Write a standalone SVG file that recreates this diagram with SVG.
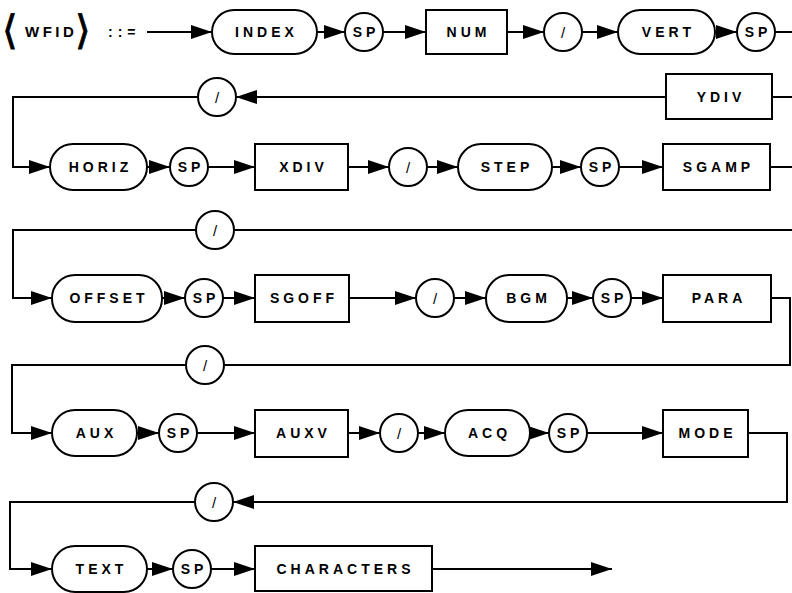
<svg xmlns="http://www.w3.org/2000/svg" width="792" height="593" viewBox="0 0 792 593">
<style>
.n{fill:#fff;stroke:#000;stroke-width:2}
.t{font-family:"Liberation Sans",Arial,sans-serif;font-weight:bold;font-size:14px;letter-spacing:4px;text-anchor:middle;fill:#000}
.s{font-family:"Liberation Sans",Arial,sans-serif;font-size:15px;text-anchor:middle;fill:#000}
.c{fill:none;stroke:#000;stroke-width:2}
.a{marker-end:url(#ah)}
</style>
<defs>
<marker id="ah" markerUnits="userSpaceOnUse" markerWidth="21" markerHeight="14" viewBox="0 0 21 14" refX="21" refY="7" orient="auto">
<path d="M0,0 L21,7 L0,14 z" fill="#000"/>
</marker>
</defs>
<rect width="792" height="593" fill="#fff"/>
<g id="title">
<text x="2" y="44" font-family="DejaVu Sans,sans-serif" font-size="40" stroke="#000" stroke-width="0.8">⟨</text>
<text x="25" y="37" font-family="Liberation Sans,Arial,sans-serif" font-weight="bold" font-size="15" letter-spacing="3.5">WFID</text>
<text x="75" y="44" font-family="DejaVu Sans,sans-serif" font-size="40" stroke="#000" stroke-width="0.8">⟩</text>
<text x="108" y="37" font-family="Liberation Sans,Arial,sans-serif" font-weight="bold" font-size="14" letter-spacing="5">::=</text>
</g>
<g id="connectors">
<line class="c a" x1="147" y1="32" x2="212" y2="32"/>
<line class="c a" x1="317" y1="32" x2="345" y2="32"/>
<line class="c a" x1="383" y1="32" x2="426" y2="32"/>
<line class="c a" x1="507" y1="32" x2="544" y2="32"/>
<line class="c a" x1="582" y1="32" x2="618" y2="32"/>
<line class="c a" x1="715" y1="32" x2="737" y2="32"/>
<line class="c" x1="775" y1="32" x2="792" y2="32"/>
<line class="c" x1="792" y1="97" x2="772" y2="97"/>
<line class="c a" x1="666" y1="97" x2="236" y2="97"/>
<polyline class="c a" points="198,97 13,97 13,167 50,167"/>
<line class="c a" x1="147" y1="167" x2="170" y2="167"/>
<line class="c a" x1="208" y1="167" x2="255" y2="167"/>
<line class="c a" x1="348" y1="167" x2="389" y2="167"/>
<line class="c a" x1="427" y1="167" x2="458" y2="167"/>
<line class="c a" x1="552" y1="167" x2="581" y2="167"/>
<line class="c a" x1="619" y1="167" x2="663" y2="167"/>
<line class="c" x1="770" y1="167" x2="792" y2="167"/>
<line class="c" x1="792" y1="230" x2="234" y2="230"/>
<polyline class="c a" points="196,230 13,230 13,298 52,298"/>
<line class="c a" x1="162" y1="298" x2="185" y2="298"/>
<line class="c a" x1="223" y1="298" x2="255" y2="298"/>
<line class="c a" x1="349" y1="298" x2="416" y2="298"/>
<line class="c a" x1="454" y1="298" x2="486" y2="298"/>
<line class="c a" x1="567" y1="298" x2="593" y2="298"/>
<line class="c a" x1="631" y1="298" x2="663" y2="298"/>
<polyline class="c" points="771,298 790,298 790,365 224,365"/>
<polyline class="c a" points="186,365 12,365 12,433 52,433"/>
<line class="c a" x1="137" y1="433" x2="159" y2="433"/>
<line class="c a" x1="197" y1="433" x2="255" y2="433"/>
<line class="c a" x1="348" y1="433" x2="380" y2="433"/>
<line class="c a" x1="418" y1="433" x2="445" y2="433"/>
<line class="c a" x1="530" y1="433" x2="549" y2="433"/>
<line class="c a" x1="587" y1="433" x2="663" y2="433"/>
<polyline class="c a" points="748,433 787,433 787,502 233,502"/>
<polyline class="c a" points="195,502 10,502 10,569 52,569"/>
<line class="c a" x1="147" y1="569" x2="173" y2="569"/>
<line class="c a" x1="211" y1="569" x2="255" y2="569"/>
<line class="c a" x1="432" y1="569" x2="612" y2="569"/>
</g>
<g id="INDEX"><rect class="n" x="212" y="10" width="105" height="44" rx="22"/><text class="t" x="266.5" y="37">INDEX</text></g>
<g id="SP1"><circle class="n" cx="364" cy="32" r="19"/><text class="t" x="366" y="37">SP</text></g>
<g id="NUM"><rect class="n" x="426" y="10" width="81" height="44"/><text class="t" x="468.5" y="37">NUM</text></g>
<g id="SL1"><circle class="n" cx="563" cy="32" r="19"/><text class="s" x="563" y="37.5">/</text></g>
<g id="VERT"><rect class="n" x="618" y="10" width="97" height="44" rx="22"/><text class="t" x="668.5" y="37">VERT</text></g>
<g id="SP2"><circle class="n" cx="756" cy="32" r="19"/><text class="t" x="758" y="37">SP</text></g>
<g id="YDIV"><rect class="n" x="666" y="74" width="106" height="45"/><text class="t" x="721" y="101.5">YDIV</text></g>
<g id="SL2"><circle class="n" cx="217" cy="97" r="19"/><text class="s" x="217" y="102.5">/</text></g>
<g id="HORIZ"><rect class="n" x="50" y="144" width="97" height="46" rx="23"/><text class="t" x="100.5" y="172">HORIZ</text></g>
<g id="SP3"><circle class="n" cx="189" cy="167" r="19"/><text class="t" x="191" y="172">SP</text></g>
<g id="XDIV"><rect class="n" x="255" y="144" width="93" height="46"/><text class="t" x="303.5" y="172">XDIV</text></g>
<g id="SL3"><circle class="n" cx="408" cy="167" r="19"/><text class="s" x="408" y="172.5">/</text></g>
<g id="STEP"><rect class="n" x="458" y="144" width="94" height="46" rx="23"/><text class="t" x="507" y="172">STEP</text></g>
<g id="SP4"><circle class="n" cx="600" cy="167" r="19"/><text class="t" x="602" y="172">SP</text></g>
<g id="SGAMP"><rect class="n" x="663" y="144" width="107" height="46"/><text class="t" x="718.5" y="172">SGAMP</text></g>
<g id="SL4"><circle class="n" cx="215" cy="230" r="19"/><text class="s" x="215" y="235.5">/</text></g>
<g id="OFFSET"><rect class="n" x="52" y="275" width="110" height="47" rx="23"/><text class="t" x="109" y="303">OFFSET</text></g>
<g id="SP5"><circle class="n" cx="204" cy="298" r="19"/><text class="t" x="206" y="303">SP</text></g>
<g id="SGOFF"><rect class="n" x="255" y="275" width="94" height="47"/><text class="t" x="304" y="303">SGOFF</text></g>
<g id="SL5"><circle class="n" cx="435" cy="298" r="19"/><text class="s" x="435" y="303.5">/</text></g>
<g id="BGM"><rect class="n" x="486" y="275" width="81" height="47" rx="23"/><text class="t" x="528.5" y="303">BGM</text></g>
<g id="SP6"><circle class="n" cx="612" cy="298" r="19"/><text class="t" x="614" y="303">SP</text></g>
<g id="PARA"><rect class="n" x="663" y="275" width="108" height="47"/><text class="t" x="719" y="303">PARA</text></g>
<g id="SL6"><circle class="n" cx="205" cy="365" r="19"/><text class="s" x="205" y="370.5">/</text></g>
<g id="AUX"><rect class="n" x="52" y="410" width="85" height="46" rx="23"/><text class="t" x="96.5" y="438">AUX</text></g>
<g id="SP7"><circle class="n" cx="178" cy="433" r="19"/><text class="t" x="180" y="438">SP</text></g>
<g id="AUXV"><rect class="n" x="255" y="410" width="93" height="47"/><text class="t" x="303.5" y="438">AUXV</text></g>
<g id="SL7"><circle class="n" cx="399" cy="433" r="19"/><text class="s" x="399" y="438.5">/</text></g>
<g id="ACQ"><rect class="n" x="445" y="410" width="85" height="46" rx="23"/><text class="t" x="489.5" y="438">ACQ</text></g>
<g id="SP8"><circle class="n" cx="568" cy="433" r="19"/><text class="t" x="570" y="438">SP</text></g>
<g id="MODE"><rect class="n" x="663" y="410" width="85" height="47"/><text class="t" x="707.5" y="438">MODE</text></g>
<g id="SL8"><circle class="n" cx="214" cy="502" r="19"/><text class="s" x="214" y="507.5">/</text></g>
<g id="TEXT"><rect class="n" x="52" y="546" width="95" height="46" rx="23"/><text class="t" x="101.5" y="574">TEXT</text></g>
<g id="SP9"><circle class="n" cx="192" cy="569" r="19"/><text class="t" x="194" y="574">SP</text></g>
<g id="CHARACTERS"><rect class="n" x="255" y="546" width="177" height="45"/><text class="t" x="345.5" y="574">CHARACTERS</text></g>
</svg>
